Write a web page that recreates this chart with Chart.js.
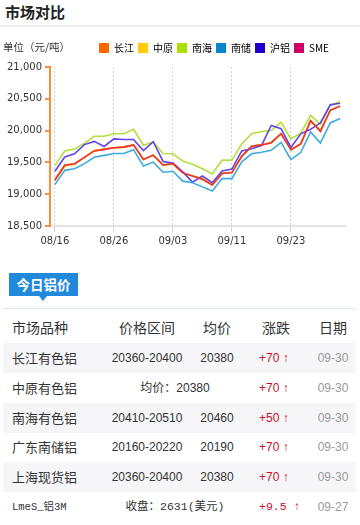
<!DOCTYPE html>
<html>
<head>
<meta charset="utf-8">
<script src="https://cdn.jsdelivr.net/npm/chart.js@4.4.1/dist/chart.umd.min.js"></script>
<style>
  html, body { margin: 0; padding: 0; background: #fff; }
  body { width: 360px; height: 525px; overflow: hidden; position: relative;
         font-family: "Liberation Sans", "Noto Sans CJK SC", sans-serif; color: #333; }
  .title { position: absolute; left: 5px; top: 1px; font-size: 15px; font-weight: bold; color: #222;
           font-family: "Noto Sans CJK SC", sans-serif; }
  .sep { position: absolute; left: 0; top: 25px; width: 360px; height: 2px; background: #eeeeee; }
  .unit { position: absolute; left: 3px; top: 39px; font-size: 10.5px; color: #333;
          font-family: "Noto Sans CJK SC", sans-serif; }
  .chart-box { position: absolute; left: 0; top: 28px; width: 360px; height: 222px; }
  .tab { position: absolute; left: 9px; top: 273px; width: 69px; height: 23px; background: #2189dc;
         color: #fff; font-weight: bold; font-size: 13.5px; line-height: 23px; text-align: center;
         font-family: "Noto Sans CJK SC", sans-serif; }
  .tab:after { content: ""; position: absolute; left: 30px; top: 23px; border-left: 4px solid transparent;
               border-right: 4px solid transparent; border-top: 5px solid #2189dc; }
  .line2 { position: absolute; left: 3px; top: 308px; width: 353px; height: 1px; background: #dfe7f1; }
  .row { position: absolute; left: 3px; width: 353px; height: 30px; }
  .row.alt { background: #f6f6f8; }
  .row span { position: absolute; top: 0; line-height: 30px; white-space: nowrap; }
  .hd span { font-size: 14px; color: #333; font-family: "Noto Sans CJK SC", sans-serif; }
  .c1 { left: 9px; font-size: 13px; font-family: "Noto Sans CJK SC", sans-serif; }
  .c2 { left: 94px; width: 100px; text-align: center; font-size: 12px; }
  .c3 { left: 184px; width: 60px; text-align: center; font-size: 12px; }
  .cm { left: 102px; width: 140px; text-align: center; font-size: 12px; }
  .c4 { left: 256px; font-size: 12px; color: #c8102e; }
  .c5 { left: 300px; width: 60px; text-align: center; font-size: 12px; color: #9a9a9a; }
  .mono { font-family: "Liberation Mono", "Noto Sans CJK SC", monospace; font-size: 10.5px; }
  .cm.mono { font-size: 11.5px; }
  .c4.mono { font-size: 11.5px; }
</style>
</head>
<body>
<div class="title">市场对比</div>
<div class="sep"></div>
<div class="chart-box"><canvas id="priceChart"></canvas></div>
<div class="unit">单位（元/吨）</div>
<div class="tab">今日铝价</div>
<div class="line2"></div>
<div id="table"></div>

<script>
// 日期
const dates = ['08/16', '08/19', '08/20', '08/21', '08/22', '08/23', '08/26', '08/27', '08/28', '08/29',
               '08/30', '09/02', '09/03', '09/04', '09/05', '09/06', '09/09', '09/10', '09/11', '09/16',
               '09/17', '09/18', '09/19', '09/20', '09/23', '09/24', '09/25', '09/26', '09/27', '09/30'];

const seriesNames = ['长江', '中原', '南海', '南储', '沪铝', 'SME'];
const legendColors = ['#ff6600', '#ffcc00', '#aadd00', '#0088cc', '#2200cc', '#cc0066'];

// 各市场价格
const changjiang = [19230, 19455, 19480, 19580, 19680, 19705, 19730, 19740, 19775, 19545,
                    19615, 19460, 19480, 19335, 19285, 19235, 19145, 19325, 19340, 19595,
                    19755, 19775, 19810, 19950, 19700, 19790, 20155, 19990, 20320, 20385];
const zhongyuan  = [19220, 19440, 19470, 19580, 19690, 19710, 19730, 19740, 19775, 19545,
                    19615, 19460, 19470, 19335, 19285, 19250, 19145, 19335, 19340, 19595,
                    19755, 19780, 19810, 19950, 19700, 19790, 20155, 20010, 20320, 20385];
const nanhai     = [19450, 19680, 19710, 19800, 19910, 19910, 19950, 19950, 20020, 19770,
                    19820, 19640, 19635, 19520, 19470, 19400, 19320, 19535, 19535, 19790,
                    19950, 19985, 20000, 20130, 19870, 19960, 20240, 20100, 20400, 20455];
const nanchu     = [19150, 19375, 19400, 19480, 19580, 19610, 19640, 19640, 19700, 19445,
                    19505, 19345, 19360, 19205, 19180, 19115, 19050, 19245, 19245, 19510,
                    19635, 19660, 19690, 19815, 19545, 19655, 19980, 19805, 20120, 20190];
const hulv       = [19360, 19585, 19635, 19780, 19830, 19750, 19870, 19860, 19860, 19685,
                    19825, 19515, 19490, 19350, 19190, 19285, 19180, 19365, 19395, 19680,
                    19715, 19765, 20080, 20030, 19735, 19950, 20020, 20120, 20405, 20430];
const sme        = [19220, 19455, 19480, 19580, 19680, 19705, 19730, 19740, 19775, 19545,
                    19615, 19460, 19480, 19335, 19285, 19235, 19145, 19325, 19340, 19595,
                    19755, 19775, 19810, 19950, 19700, 19790, 20155, 19990, 20320, 20385];

const lineColors = ['#ff7a00', '#ffd000', '#b3e03c', '#3fa9e2', '#6444ea', '#e8333f'];
const yMin = 18500, yMax = 21000, yStep = 500;

// 今日铝价表
const rowNames  = ['长江有色铝', '中原有色铝', '南海有色铝', '广东南储铝', '上海现货铝', 'LmeS_铝3M'];
const rowRanges = ['20360-20400', '均价：20380', '20410-20510', '20160-20220', '20360-20400', '收盘：2631(美元)'];
const rowAvgs   = ['20380', null, '20460', '20190', '20380', null];
const rowChange = ['+70', '+70', '+50', '+70', '+70', '+9.5'];
const rowDates  = ['09-30', '09-30', '09-30', '09-30', '09-30', '09-27'];

const allSeries = [changjiang, zhongyuan, nanhai, nanchu, hulv, sme];
const drawOrder = [4, 3, 2, 1, 1, 0];

// 图例位置微调
const legendShift = {
    id: 'legendShift',
    beforeInit(chart) {
        const fit = chart.legend.fit;
        chart.legend.fit = function() {
            fit.call(this);
            this.height += 4;
        };
    },
    afterLayout(chart) {
        chart.legend.right -= 12;
    }
};

const ctx = document.getElementById('priceChart').getContext('2d');
new Chart(ctx, {
    type: 'line',
    data: {
        labels: dates,
        datasets: allSeries.map((d, i) => ({
            label: seriesNames[i],
            data: d,
            borderColor: lineColors[i],
            backgroundColor: legendColors[i],
            borderWidth: 1.6,
            pointRadius: 0,
            tension: 0,
            fill: false,
            order: drawOrder[i]
        }))
    },
    options: {
        responsive: true,
        maintainAspectRatio: false,
        animation: false,
        layout: { padding: { left: 4, right: 15, top: 11, bottom: 0 } },
        plugins: {
            tooltip: { enabled: false },
            legend: {
                position: 'top',
                align: 'end',
                labels: {
                    boxWidth: 10,
                    boxHeight: 10,
                    padding: 4,
                    color: '#333',
                    font: { family: 'Noto Sans CJK SC', size: 10 },
                    generateLabels: () => seriesNames.map((n, i) => ({
                        text: n,
                        fillStyle: legendColors[i],
                        strokeStyle: legendColors[i],
                        lineWidth: 0,
                        datasetIndex: i,
                        hidden: false
                    }))
                }
            }
        },
        scales: {
            x: {
                offset: true,
                grid: { offset: false, color: '#d4d4d4', lineWidth: 1, tickLength: 6 },
                border: { color: '#e3e3e3', width: 2, dash: [2, 2] },
                ticks: {
                    autoSkip: false,
                    maxRotation: 0,
                    padding: 3,
                    color: '#333',
                    font: { family: 'DejaVu Sans', size: 10 },
                    callback: function(v, i) {
                        return i % 6 === 0 ? dates[i] : null;
                    }
                }
            },
            y: {
                min: yMin,
                max: yMax,
                grid: { drawOnChartArea: false, color: '#ff8c3c', lineWidth: 2, tickLength: 5 },
                border: { color: '#ff8c3c', width: 2 },
                ticks: {
                    stepSize: yStep,
                    padding: 3,
                    color: '#333',
                    font: { family: 'DejaVu Sans', size: 10 },
                    callback: v => v.toLocaleString('en-US')
                }
            }
        }
    },
    plugins: [legendShift]
});

// 表格
function addRow(top, alt, cells, cls) {
    const row = document.createElement('div');
    row.className = 'row' + (alt ? ' alt' : '') + (cls ? ' ' + cls : '');
    row.style.top = top + 'px';
    cells.forEach(c => {
        const s = document.createElement('span');
        s.className = c[0];
        s.textContent = c[1];
        if (c[2]) s.style.cssText = c[2];
        row.appendChild(s);
    });
    document.getElementById('table').appendChild(row);
}

addRow(312, false, [['c1', '市场品种', 'font-size:14px'], ['c2', '价格区间', 'font-size:14px'],
                    ['c3', '均价', 'font-size:14px'], ['c4', '涨跌', 'font-size:14px;color:#333;left:259px'],
                    ['c5', '日期', 'font-size:14px;color:#333']], 'hd');

rowNames.forEach((name, i) => {
    const top = 342.7 + i * 29.9;
    const isLme = i === 5;
    const cells = [[isLme ? 'c1 mono' : 'c1', name]];
    if (rowAvgs[i] === null) {
        cells.push([isLme ? 'cm mono' : 'cm', rowRanges[i]]);
    } else {
        cells.push(['c2', rowRanges[i]]);
        cells.push(['c3', rowAvgs[i]]);
    }
    cells.push([isLme ? 'c4 mono' : 'c4', rowChange[i] + ' ↑']);
    cells.push(['c5', rowDates[i]]);
    addRow(top, i % 2 === 0, cells);
});
</script>
</body>
</html>
